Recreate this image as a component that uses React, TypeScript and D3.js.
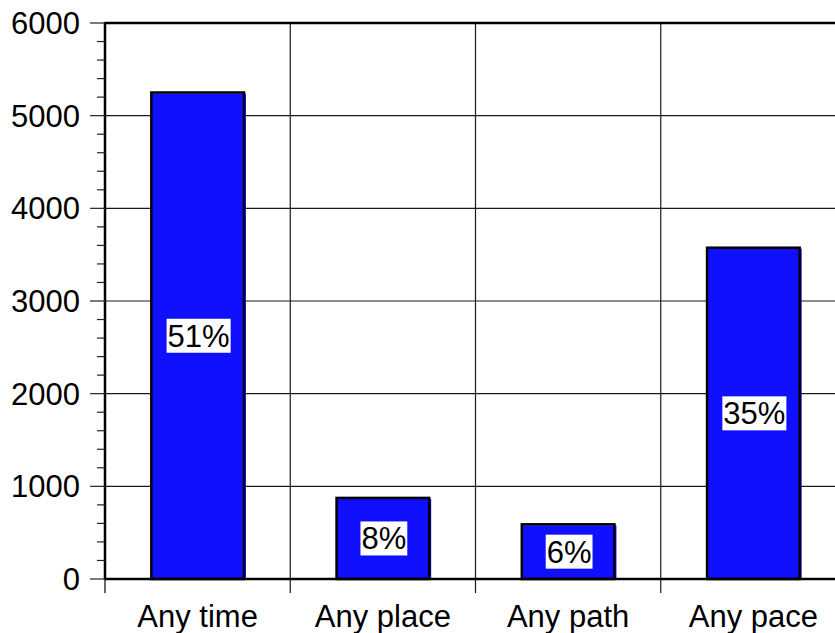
import React, { useEffect, useRef } from "react";
import * as d3 from "d3";

const categories = ["Any time", "Any place", "Any path", "Any pace"];
const values = [5250, 875, 590, 3575];
const percentLabels = ["51%", "8%", "6%", "35%"];
const yMajorTicks = [0, 1000, 2000, 3000, 4000, 5000, 6000];

const W = 835;
const H = 633;
const FONT = "Arial, 'Liberation Sans', Helvetica, sans-serif";
const FS = 31;

export default function App() {
  const ref = useRef<SVGSVGElement | null>(null);

  useEffect(() => {
    const svg = d3.select(ref.current);
    svg.selectAll("*").remove();

    const left = 105;
    const top = 23;
    const bottom = 579;
    const right = 846;

    const y = d3.scaleLinear().domain([0, 6000]).range([bottom, top]);
    const x = d3
      .scaleBand<string>()
      .domain(categories)
      .range([left, right])
      .paddingInner(0.5)
      .paddingOuter(0.25);
    const step = x.step();

    // horizontal gridlines
    svg
      .append("g")
      .selectAll("line")
      .data(yMajorTicks.filter((t) => t > 0 && t < 6000))
      .join("line")
      .attr("x1", left)
      .attr("x2", W)
      .attr("y1", (d) => y(d))
      .attr("y2", (d) => y(d))
      .attr("stroke", "#1a1a1a")
      .attr("stroke-width", 1.2);

    // vertical gridlines / category separators
    const seps = d3.range(1, categories.length).map((i) => left + i * step);
    svg
      .append("g")
      .selectAll("line")
      .data(seps)
      .join("line")
      .attr("x1", (d) => d)
      .attr("x2", (d) => d)
      .attr("y1", top)
      .attr("y2", bottom + 14)
      .attr("stroke", "#1a1a1a")
      .attr("stroke-width", 1.2);

    // left bottom tick
    svg
      .append("line")
      .attr("x1", left)
      .attr("x2", left)
      .attr("y1", bottom)
      .attr("y2", bottom + 14)
      .attr("stroke", "#000")
      .attr("stroke-width", 1.2);

    // bars
    const bars = svg.append("g");
    categories.forEach((c, i) => {
      const bx = x(c)!;
      const bw = x.bandwidth();
      const by = y(values[i]);
      bars
        .append("rect")
        .attr("x", bx)
        .attr("y", by + 1)
        .attr("width", bw + 2)
        .attr("height", bottom - by)
        .attr("fill", "#1010ff");
      bars
        .append("rect")
        .attr("x", bx)
        .attr("y", by)
        .attr("width", bw)
        .attr("height", bottom - by)
        .attr("fill", "none")
        .attr("stroke", "#000")
        .attr("stroke-width", 2.5);
    });

    // frame: top line, left axis, bottom axis
    svg
      .append("line")
      .attr("x1", left)
      .attr("x2", W)
      .attr("y1", top)
      .attr("y2", top)
      .attr("stroke", "#000")
      .attr("stroke-width", 2.5);
    svg
      .append("line")
      .attr("x1", left)
      .attr("x2", left)
      .attr("y1", top - 1)
      .attr("y2", bottom + 1)
      .attr("stroke", "#000")
      .attr("stroke-width", 2.5);
    svg
      .append("line")
      .attr("x1", left)
      .attr("x2", W)
      .attr("y1", bottom)
      .attr("y2", bottom)
      .attr("stroke", "#000")
      .attr("stroke-width", 2.5);

    // y ticks
    const minor = d3.range(0, 6001, 200).filter((v) => v % 1000 !== 0);
    svg
      .append("g")
      .selectAll("line")
      .data(minor)
      .join("line")
      .attr("x1", left - 8)
      .attr("x2", left)
      .attr("y1", (d) => y(d))
      .attr("y2", (d) => y(d))
      .attr("stroke", "#222")
      .attr("stroke-width", 1.2);
    svg
      .append("g")
      .selectAll("line")
      .data(yMajorTicks)
      .join("line")
      .attr("x1", left - 15)
      .attr("x2", left)
      .attr("y1", (d) => y(d))
      .attr("y2", (d) => y(d))
      .attr("stroke", "#222")
      .attr("stroke-width", 1.2);
    svg
      .append("g")
      .selectAll("text")
      .data(yMajorTicks)
      .join("text")
      .attr("x", 80)
      .attr("y", (d) => y(d) + 11)
      .attr("text-anchor", "end")
      .attr("font-family", FONT)
      .attr("font-size", FS)
      .attr("fill", "#000")
      .text((d) => String(d));

    // category labels
    svg
      .append("g")
      .selectAll("text")
      .data(categories)
      .join("text")
      .attr("x", (d) => x(d)! + x.bandwidth() / 2)
      .attr("y", 627)
      .attr("text-anchor", "middle")
      .attr("font-family", FONT)
      .attr("font-size", FS)
      .attr("fill", "#000")
      .text((d) => d);

    // percent labels with white boxes
    categories.forEach((c, i) => {
      const cx = x(c)! + x.bandwidth() / 2 + 1;
      const cy = (y(values[i]) + bottom) / 2;
      const g = svg.append("g");
      const bg = g.append("rect").attr("fill", "#fff");
      const t = g
        .append("text")
        .attr("x", cx)
        .attr("y", cy + 11)
        .attr("text-anchor", "middle")
        .attr("font-family", FONT)
        .attr("font-size", FS)
        .attr("fill", "#000")
        .text(percentLabels[i]);
      const bb = (t.node() as SVGTextElement).getBBox();
      bg.attr("x", bb.x - 1)
        .attr("y", cy - 17)
        .attr("width", bb.width + 2)
        .attr("height", 34);
    });
  }, []);

  return (
    <svg
      ref={ref}
      width={W}
      height={H}
      style={{ position: "absolute", left: 0, top: 0, background: "#fff" }}
    />
  );
}
